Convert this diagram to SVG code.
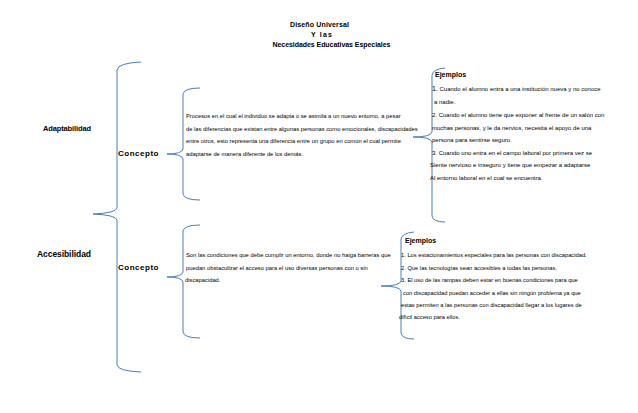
<svg xmlns="http://www.w3.org/2000/svg" width="638" height="413" viewBox="0 0 638 413">
<style>
.br{fill:none;stroke:#4a7ebb;stroke-width:1}
.t{font-family:"Liberation Sans",Arial,sans-serif;fill:#000}
.b{font-weight:bold}
.c{font-size:5.8px}
.e1{font-size:6px}
.e2{font-size:5.75px}
</style>
<rect width="638" height="413" fill="#fff"/>
<g id="title" class="t b" font-size="7">
<text x="290" y="26.5" textLength="59" lengthAdjust="spacing">Diseño Universal</text>
<text x="311" y="36.5" textLength="21" lengthAdjust="spacing">Y las</text>
<text x="272.5" y="46.5" textLength="118" lengthAdjust="spacing">Necesidades Educativas Especiales</text>
</g>
<g id="connectors">
<path class="br" d="M141,62 Q118,63 117,70 L117,208 Q116,213 93,214 Q116,215 117,220 L117,365 Q118,371 141,372"/>
<path class="br" d="M200,88 Q184,88 183,94 L183,149 Q182,154 167,154 Q182,154 183,159 L183,194 Q184,200 200,200"/>
<path class="br" d="M200,225 Q184,225 183,231 L183,272 Q182,277 167,277 Q182,277 183,282 L183,332 Q184,338 200,338"/>
<path class="br" d="M445,68 Q433,69 432,75 L432,132 Q431,137 413,137 Q431,137 432,142 L432,216 Q433,222 445,222"/>
<path class="br" d="M414,232 Q402,233 401,239 L401,281 Q400,286 381,286 Q400,286 401,291 L401,333 Q402,339 414,339"/>
</g>
<g id="adaptabilidad" class="t b" font-size="7.5">
<text x="43" y="130.5" textLength="48" lengthAdjust="spacing">Adaptabilidad</text>
</g>
<g id="accesibilidad" class="t b" font-size="8.5">
<text x="37" y="257" textLength="54" lengthAdjust="spacing">Accesibilidad</text>
</g>
<g id="concepto1" class="t b" font-size="8">
<text x="118" y="156" textLength="40.5" lengthAdjust="spacing">Concepto</text>
</g>
<g id="concepto2" class="t b" font-size="8">
<text x="118" y="270" textLength="40.5" lengthAdjust="spacing">Concepto</text>
</g>
<g id="def1" class="t c">
<text x="186" y="117.5">Procesos en el cual el individuo se adapta o se asimila a un nuevo entorno,   a pesar</text>
<text x="186" y="130.5">de las diferencias que existan entre algunas personas como   emocionales,  discapacidades</text>
<text x="186" y="143">entre otros, esto representa una diferencia entre un grupo en común  el cual permite</text>
<text x="186" y="155.5">adaptarse de manera  diferente de los demás.</text>
</g>
<g id="def2" class="t c">
<text x="186" y="257">Son las condiciones que debe cumplir un entorno, donde no haiga   barreras que</text>
<text x="186" y="269.5">puedan obstaculizar el acceso para el uso diversas  personas con o sin</text>
<text x="185" y="282">discapacidad.</text>
</g>
<g id="ejemplos1" class="t e1">
<text x="435" y="76.5" class="b" font-size="7">Ejemplos</text>
<text x="432" y="91"><tspan font-size="7">1.</tspan>  Cuando el alumno  entra a una  institución nueva   y no conoce</text>
<text x="434" y="104">a nadie.</text>
<text x="432" y="117">2. Cuando el alumno tiene que exponer al frente de un salón con</text>
<text x="432" y="129.5">muchas personas, y le da nervios,  necesita el apoyo de una</text>
<text x="432" y="142">persona para sentirse  seguro.</text>
<text x="432" y="155">3. Cuando uno entra en el campo laboral por primera vez se</text>
<text x="430" y="167">Siente nervioso e inseguro y tiene que empezar a  adaptarse</text>
<text x="430" y="180">Al entorno laboral en el cual se encuentra.</text>
</g>
<g id="ejemplos2" class="t e2">
<text x="405" y="242.5" class="b" font-size="7">Ejemplos</text>
<text x="401" y="257">1. Los estacionamientos especiales para las personas con  discapacidad.</text>
<text x="401" y="269.5">2. Que las tecnologías sean accesibles a todas las personas.</text>
<text x="401" y="282">3. El uso de las rampas deben estar en buenas condiciones   para que</text>
<text x="403" y="294.5">con discapacidad puedan acceder a ellas sin ningún problema ya que</text>
<text x="401" y="306.5">estas permiten a las personas con discapacidad llegar a los lugares de</text>
<text x="399" y="319">difícil acceso para ellos.</text>
</g>
</svg>
